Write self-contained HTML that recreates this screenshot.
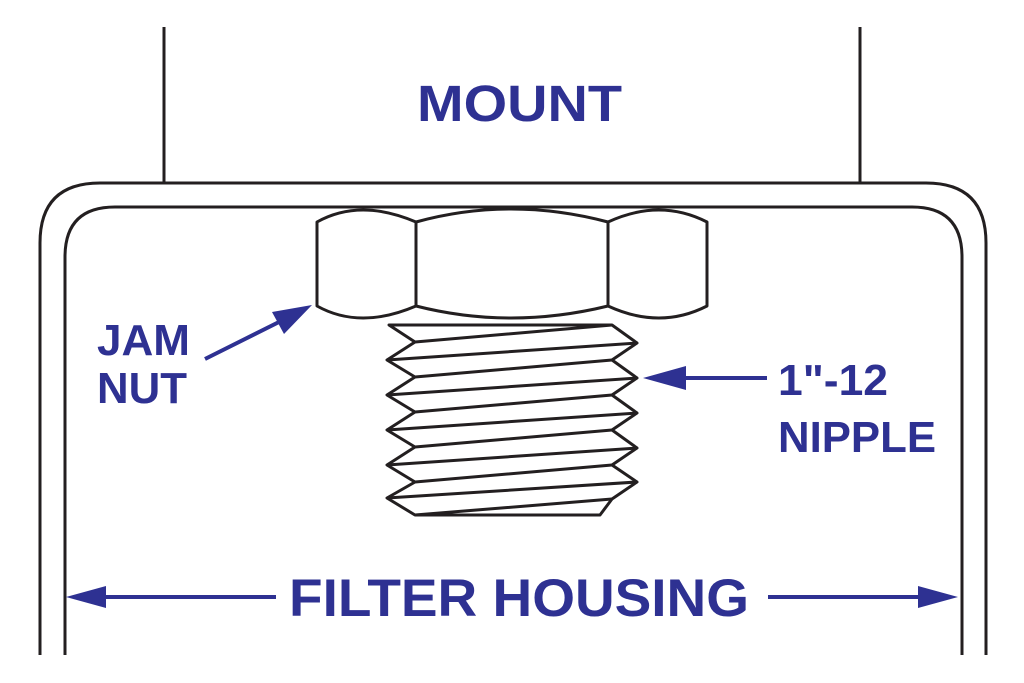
<!DOCTYPE html>
<html><head><style>body{margin:0;background:#fff}svg{display:block}</style></head><body>
<svg width="1024" height="683" viewBox="0 0 1024 683" xmlns="http://www.w3.org/2000/svg">
<g fill="none" stroke="#231f20" stroke-width="3">
<line x1="164" y1="27" x2="164" y2="183"/>
<line x1="860" y1="27" x2="860" y2="183"/>
<path d="M40 655 V243 Q40 183 100 183 H926 Q986 183 986 243 V655"/>
<path d="M65 655 V257 Q65 207 115 207 H912 Q962 207 962 257 V655"/>
</g>
<g fill="#fff" stroke="#231f20" stroke-width="3" stroke-linejoin="round">
<path d="M317 222 Q360 198 416 222 Q510 196 608 222 Q660 198 707 222 V306 Q660 330 608 306 Q510 330 416 306 Q360 330 317 306 Z"/>
<line x1="416" y1="222" x2="416" y2="306"/>
<line x1="608" y1="222" x2="608" y2="306"/>
<path d="M389 325 L415 342 L387 360 L415 377 L387 395 L415 412 L387 430 L415 447 L387 465 L415 482 L387 498 L415 515 L600 515 L612 499 L637 482 L612 465 L637 448 L612 430 L637 413 L612 395 L637 378 L612 360 L637 343 L612 325 Z"/>
<path d="M415 342 L612 325 M387 360 L637 343 M415 377 L612 360 M387 395 L637 378 M415 412 L612 395 M387 430 L637 413 M415 447 L612 430 M387 465 L637 448 M415 482 L612 465 M387 498 L637 482 M415 515 L612 499"/>
</g>
<g fill="#2e3192" stroke="#2e3192" stroke-width="4">
<line x1="205" y1="359" x2="285" y2="319"/>
<polygon points="312,305 272,312 284,334" stroke="none"/>
<line x1="675" y1="378" x2="767" y2="378"/>
<polygon points="643,378 686,366 686,390" stroke="none"/>
<line x1="95" y1="597" x2="276" y2="597"/>
<polygon points="66,597 106,586 106,608" stroke="none"/>
<line x1="768" y1="597" x2="925" y2="597"/>
<polygon points="958,597 918,586 918,608" stroke="none"/>
</g>
<g fill="#2e3192" font-family="Liberation Sans, sans-serif" font-weight="bold">
<text x="417" y="121" font-size="51" textLength="205" lengthAdjust="spacingAndGlyphs">MOUNT</text>
<text x="97" y="355" font-size="44" textLength="93" lengthAdjust="spacingAndGlyphs">JAM</text>
<text x="97" y="403" font-size="44" textLength="90" lengthAdjust="spacingAndGlyphs">NUT</text>
<text x="778" y="395" font-size="44" textLength="110" lengthAdjust="spacingAndGlyphs">1"-12</text>
<text x="778" y="452" font-size="44" textLength="158" lengthAdjust="spacingAndGlyphs">NIPPLE</text>
<text x="289" y="616" font-size="53" textLength="460" lengthAdjust="spacingAndGlyphs">FILTER HOUSING</text>
</g>
</svg>
</body></html>
